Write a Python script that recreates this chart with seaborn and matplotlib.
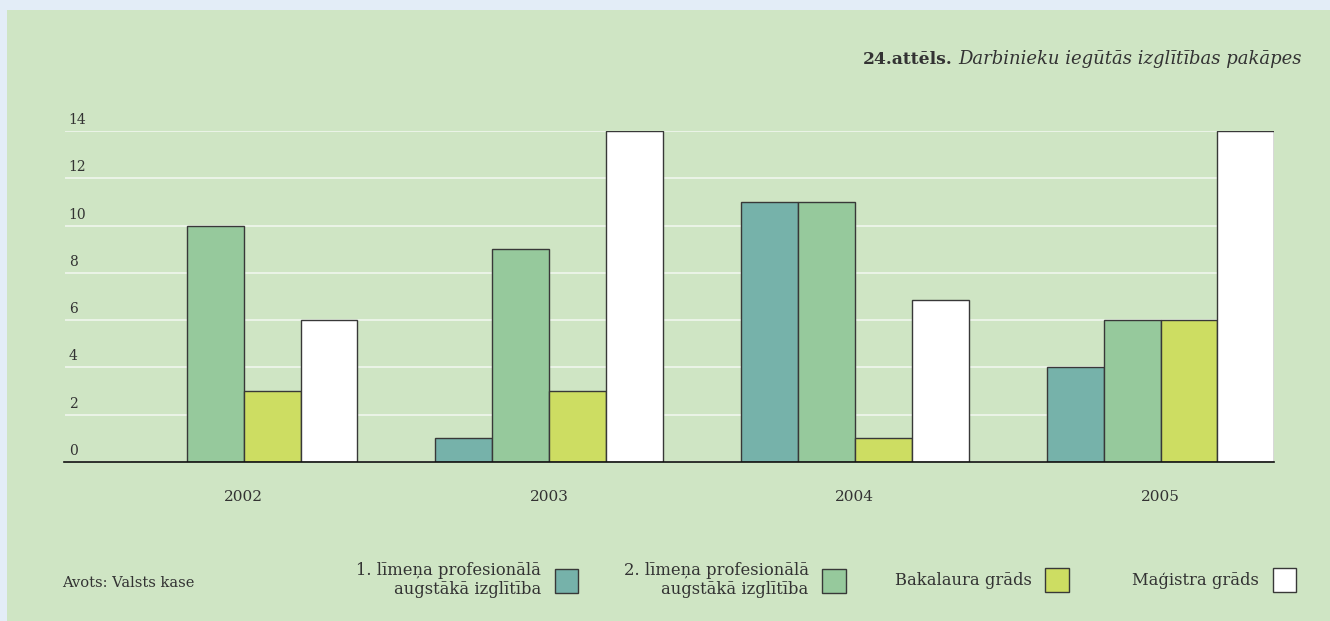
import pandas as pd
import matplotlib.pyplot as plt
import matplotlib.transforms as mtransforms
from matplotlib.patches import Rectangle
import seaborn as sns

# Dati
years = ['2002', '2003', '2004', '2005']
levels = ['1. līmeņa profesionālā\naugstākā izglītība',
          '2. līmeņa profesionālā\naugstākā izglītība',
          'Bakalaura grāds',
          'Maģistra grāds']
lvl1 = [0, 1, 11, 4]
lvl2 = [10, 9, 11, 6]
bakalaurs = [3, 3, 1, 6]
magistrs = [6, 14, 6.85, 14]
y_ticks = [0, 2, 4, 6, 8, 10, 12, 14]

colors = ['#76b2aa', '#96c99c', '#cddd62', '#ffffff']
panel = '#cfe5c4'

rows = []
for lev, vals in zip(levels, [lvl1, lvl2, bakalaurs, magistrs]):
    for yr, v in zip(years, vals):
        rows.append({'year': yr, 'level': lev, 'value': v})
df = pd.DataFrame(rows)

sns.set_style('white')
plt.rcParams['font.family'] = ['DejaVu Serif']
plt.rcParams['text.color'] = '#333333'

fig = plt.figure(figsize=(13.3, 6.21), dpi=100)
fig.patch.set_facecolor('#e3edf7')
fig.patches.append(Rectangle((7 / 1330, 0), 1 - 7 / 1330, 1 - 10 / 621,
                             transform=fig.transFigure, facecolor=panel,
                             edgecolor='none', zorder=-10))

ax = fig.add_axes([64.5 / 1330, (621 - 462) / 621, (1274.2 - 64.5) / 1330, (462 - 131) / 621])
ax.set_facecolor('none')

sns.barplot(data=df, x='year', y='value', hue='level', palette=colors, saturation=1,
            width=0.745, edgecolor='#383838', linewidth=1, ax=ax, legend=True)

ax.set_xlim(-0.586, 3.372)
ax.set_ylim(0, 14)
ax.set_yticks(y_ticks)
ax.yaxis.grid(True, color='#eef5ea', linewidth=1.3)
ax.set_axisbelow(True)
for s in ['top', 'right', 'left']:
    ax.spines[s].set_visible(False)
ax.spines['bottom'].set_color('#111111')
ax.spines['bottom'].set_linewidth(1.2)
ax.set_xlabel('')
ax.set_ylabel('')
ax.tick_params(axis='x', length=0, pad=20, labelsize=11, labelcolor='#333333')
ax.tick_params(axis='y', length=0, pad=-3, labelsize=10, labelcolor='#333333')
off = mtransforms.ScaledTranslation(0, 5 / 72, fig.dpi_scale_trans)
for lab in ax.get_yticklabels():
    lab.set_horizontalalignment('left')
    lab.set_verticalalignment('baseline')
    lab.set_transform(lab.get_transform() + off)

# leģenda - katrs elements atsevišķi, lai sakristu atstarpes
handles, labels = ax.get_legend_handles_labels()
ax.get_legend().remove()
legend_right = [578, 845.5, 1068.7, 1296]
for h, lab, xr in zip(handles, labels, legend_right):
    leg = fig.legend([h], [lab], loc='center right',
                     bbox_to_anchor=(xr / 1330, 1 - 580 / 621), frameon=False,
                     markerfirst=False, fontsize=11.8, handlelength=1.43, handleheight=1.83,
                     handletextpad=0.82, borderpad=0, borderaxespad=0)
    for t in leg.get_texts():
        t.set_multialignment('right')
        t.set_color('#333333')

fig.text(62 / 1330, 1 - 583 / 621, 'Avots: Valsts kase', fontsize=10.5, va='center')

title = fig.text(1302 / 1330, 1 - 64.5 / 621, 'Darbinieku iegūtās izglītības pakāpes',
                 fontsize=13, style='italic', ha='right', va='baseline')
ax.annotate('24.attēls.', xy=(0, 1 - 64.5 / 621), xycoords=(title, 'figure fraction'),
            xytext=(-4, 0), textcoords='offset points', ha='right', va='baseline',
            fontsize=12.3, fontweight='bold', color='#333333', annotation_clip=False)

fig.savefig('out.png', dpi=100, facecolor=fig.get_facecolor())
